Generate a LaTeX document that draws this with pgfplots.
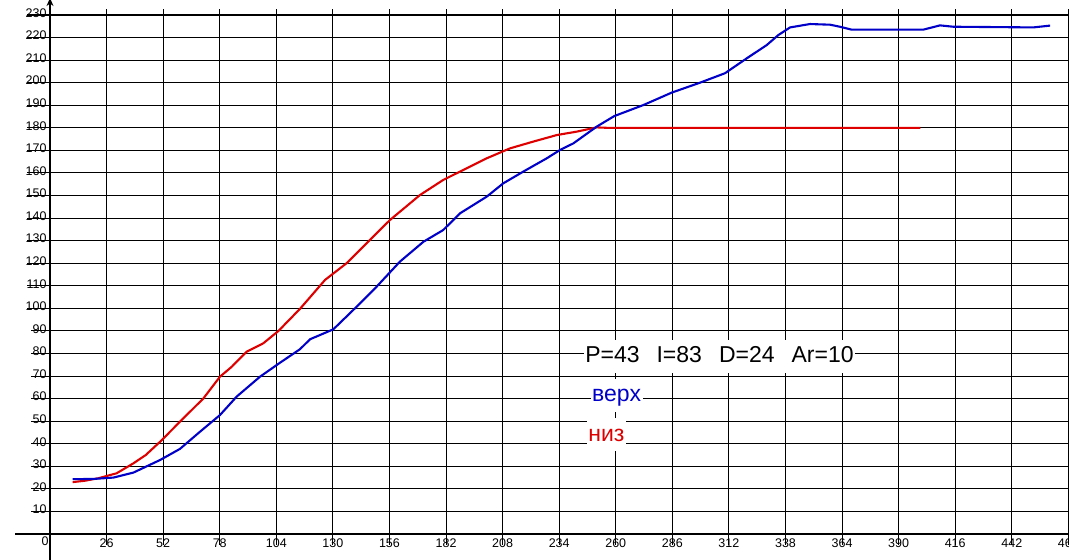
\documentclass[border=0pt]{standalone}
\usepackage{fontspec}
\setmainfont{Liberation Sans}
\usepackage{pgfplots}
\pgfplotsset{compat=1.18}
\usetikzlibrary{arrows.meta}
\definecolor{cblue}{RGB}{0,0,200}
\definecolor{cred}{RGB}{222,0,0}
\begin{document}
\begin{tikzpicture}
\begin{axis}[
 x=2.176bp, y=2.2565bp,
 xmin=0, xmax=468, ymin=0, ymax=232.7,
 axis line style={draw=none},
 xtick={26,52,78,104,130,156,182,208,234,260,286,312,338,364,390,416,442,468},
 ytick={10,20,30,40,50,60,70,80,90,100,110,120,130,140,150,160,170,180,190,200,210,220,230},
 major tick length=0pt,
 grid=major,
 major grid style={black, line width=1.05bp},
 tick label style={font=\fontsize{12.5bp}{14bp}\selectfont},
 /pgf/number format/assume math mode=true,
 xticklabel style={anchor=north, yshift=-1bp},
 yticklabel style={anchor=east, yshift=2bp},
 clip=false,
]
\coordinate (O) at (axis cs:0,0);
\pgfplotsinvokeforeach{10,20,30,40,50,60,70,80,90}{\draw[line width=1.05bp] (axis cs:-8.7,#1) -- (axis cs:0,#1);}
\pgfplotsinvokeforeach{100,110,120,130,140,150,160,170,180,190,200,210,220,230}{\draw[line width=1.05bp] (axis cs:-10.5,#1) -- (axis cs:0,#1);}
\pgfplotsinvokeforeach{26,52,78,104,130,156,182,208,234,260,286,312,338,364,390,416,442,468}{\draw[line width=1.05bp] (axis cs:#1,0) -- (axis cs:#1,-5);}
\draw[line width=1.05bp] (axis cs:-16,0) -- (axis cs:469,0);
\draw[line width=1.05bp, -{Stealth[length=8bp,width=7bp]}] (axis cs:0,-12) -- (axis cs:0,237.5);
\node[font=\fontsize{12.5bp}{14bp}\selectfont] at (axis cs:-2.3,-3.3) {0};

\addplot[cred, line width=2.1bp, line join=round] table {
10.4 23.0
16 23.6
22.2 24.7
26 25.7
30.6 26.9
38.3 31.3
44 35
50.6 40.9
60.5 50.5
70.5 60.1
78.1 69.7
83.5 74.1
90.4 80.8
98 84.5
105 90
114.9 99.8
126.4 112.6
136.3 120
147 130.3
156.3 139.2
170 150.2
180.7 156.9
188.4 160.6
200.7 166.5
211.4 170.9
222.1 173.9
232.9 176.8
242 178.3
251.2 180.2
256 180
400 180
};
\addplot[cblue, line width=2.1bp, line join=round] table {
10.4 24.3
20 24.4
26 24.8
29.1 25
38.3 27.2
50.6 32.8
59.7 37.7
68.9 45.3
78.1 52.7
85.8 60.9
96.5 69.7
105.7 75.9
114.9 81.9
119.5 86.3
130.2 90.7
139.4 99.3
150.1 109.6
160.8 120.7
171.6 129.5
180.7 134.7
188.4 142.1
200.7 149.5
208.3 155.4
217.5 160.6
228.3 166.5
234.4 170.2
240.5 173.1
251.2 180.5
259.3 185.2
272.7 190.1
285.7 195.6
298.7 200
310.2 204.2
320.2 210.8
329.4 216.7
334.7 221.1
340.1 224.5
349.3 226
358.5 225.7
363 224.8
368.4 223.5
401.3 223.5
409 225.4
415.1 224.8
451.9 224.5
459.6 225.3
};

\node[anchor=base west, fill=white, inner xsep=1.5bp, inner ysep=4bp, text height=19bp, text depth=6bp, font=\fontsize{23bp}{27bp}\selectfont] at (axis cs:245.2,75.8) {P=43\hspace{17bp}I=83\hspace{17bp}D=24\hspace{17bp}Ar=10};
\node[anchor=base west, fill=white, inner xsep=1.5bp, inner ysep=4bp, text height=19bp, text depth=6bp, font=\fontsize{23bp}{27bp}\selectfont, text=cblue] at (axis cs:248.4,58.5) {верх};
\node[anchor=base west, fill=white, inner xsep=1.5bp, inner ysep=4bp, text height=19bp, text depth=6bp, font=\fontsize{23bp}{27bp}\selectfont, text=cred] at (axis cs:246.6,41.2) {низ};
\end{axis}
\pgfresetboundingbox
\path[use as bounding box] ([shift={(-50bp,-26bp)}]O) rectangle ([shift={(1019bp,534bp)}]O);
\end{tikzpicture}
\end{document}
